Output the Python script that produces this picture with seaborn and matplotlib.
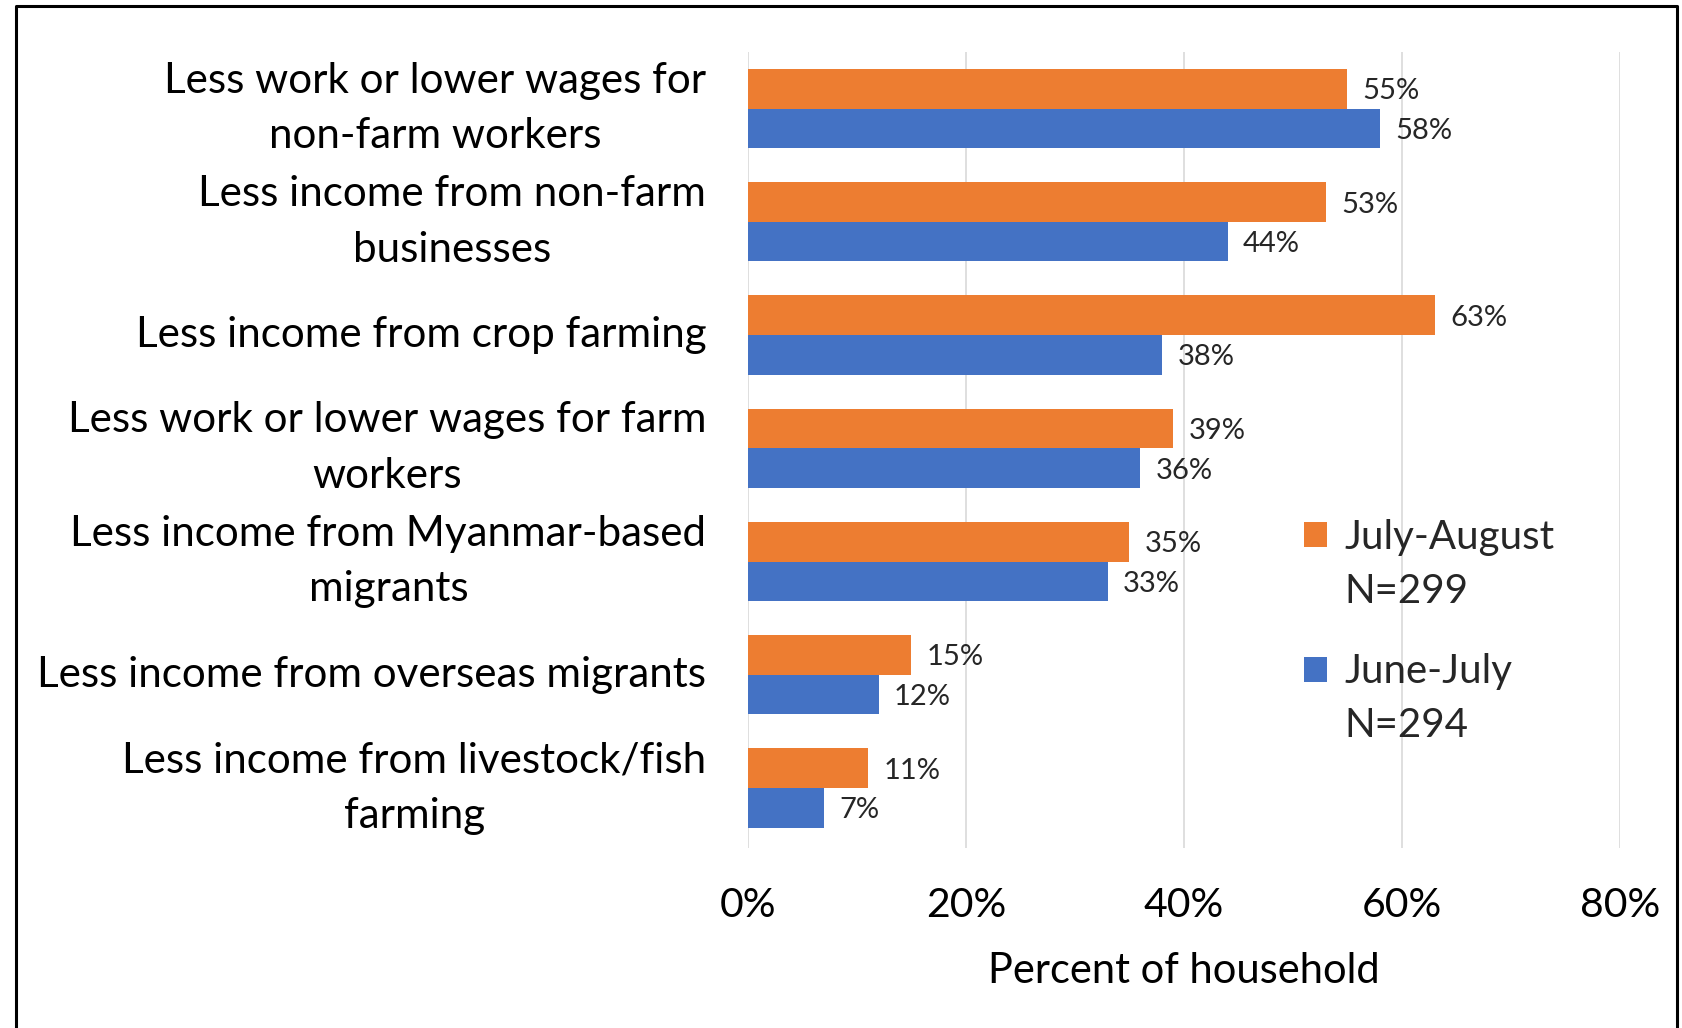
import matplotlib
matplotlib.use("Agg")
import matplotlib.pyplot as plt
import seaborn as sns
import pandas as pd
from matplotlib.lines import Line2D

categories = [
    "Less work or lower wages for\nnon-farm workers",
    "Less income from non-farm\nbusinesses",
    "Less income from crop farming",
    "Less work or lower wages for farm\nworkers",
    "Less income from Myanmar-based\nmigrants",
    "Less income from overseas migrants",
    "Less income from livestock/fish\nfarming",
]
series_names = ["July-August\nN=299", "June-July\nN=294"]
july_august = [55, 53, 63, 39, 35, 15, 11]
june_july = [58, 44, 38, 36, 33, 12, 7]
x_ticks = [0, 20, 40, 60, 80]
x_ticklabels = ["0%", "20%", "40%", "60%", "80%"]
x_label = "Percent of household"

colors = ["#ED7D31", "#4472C4"]

sns.set_theme(style="white")
plt.rcParams["font.family"] = ["Lato", "DejaVu Sans"]

df = pd.DataFrame({
    "category": categories * 2,
    "value": july_august + june_july,
    "series": [series_names[0]] * len(categories) + [series_names[1]] * len(categories),
})

fig = plt.figure(figsize=(16.83, 10.28), dpi=100)
ax = fig.add_axes([748 / 1683, 1 - 848 / 1028, (1620 - 748) / 1683, (848 - 52) / 1028])

sns.barplot(data=df, x="value", y="category", hue="series", order=categories,
            hue_order=series_names, palette=colors, orient="h", width=0.7,
            saturation=1, ax=ax, legend=True, linewidth=0)

for cont in ax.containers:
    texts = ax.bar_label(cont, labels=[f"{v:.0f}%" for v in cont.datavalues], padding=11,
                         fontsize=21, color="#262626")
    for t in texts:
        t.set_va("center_baseline")

ax.set_xlim(0, 80)
ax.set_ylim(6.53, -0.5)
ax.set_xticks(x_ticks)
ax.set_xticklabels(x_ticklabels, fontsize=29.5, color="#000000")
ax.set_xlabel(x_label, fontsize=30, color="#000000", labelpad=20)
ax.set_ylabel("")
ax.tick_params(axis="y", labelsize=30.3, pad=30, length=0, labelcolor="#000000")
ax.tick_params(axis="x", pad=28, length=0)
for lbl in ax.get_yticklabels():
    lbl.set_multialignment("center")
    lbl.set_linespacing(1.57)
    lbl.set_va("center")
ax.grid(axis="x", color="#D9D9D9", linewidth=1.2)
ax.set_axisbelow(True)
for s in ax.spines.values():
    s.set_visible(False)

leg = ax.legend(loc="upper left", bbox_to_anchor=(1284 / 1683, 1 - 499 / 1028),
                bbox_transform=fig.transFigure, frameon=False, fontsize=29,
                handlelength=0.58, handleheight=0.58, handletextpad=0.42,
                labelspacing=1.07, borderpad=0)
for t in leg.get_texts():
    t.set_linespacing(1.57)
for p in leg.get_patches():
    p.set_y(p.get_y() + 22)

# figure border (left, top, right)
bx0, bx1, by = 16 / 1683, 1677 / 1683, 1 - 6 / 1028
fig.add_artist(Line2D([bx0, bx0, bx1, bx1], [0, by, by, 0], transform=fig.transFigure,
                      color="black", linewidth=2.2))

fig.savefig("out.png", dpi=100, facecolor="white")
